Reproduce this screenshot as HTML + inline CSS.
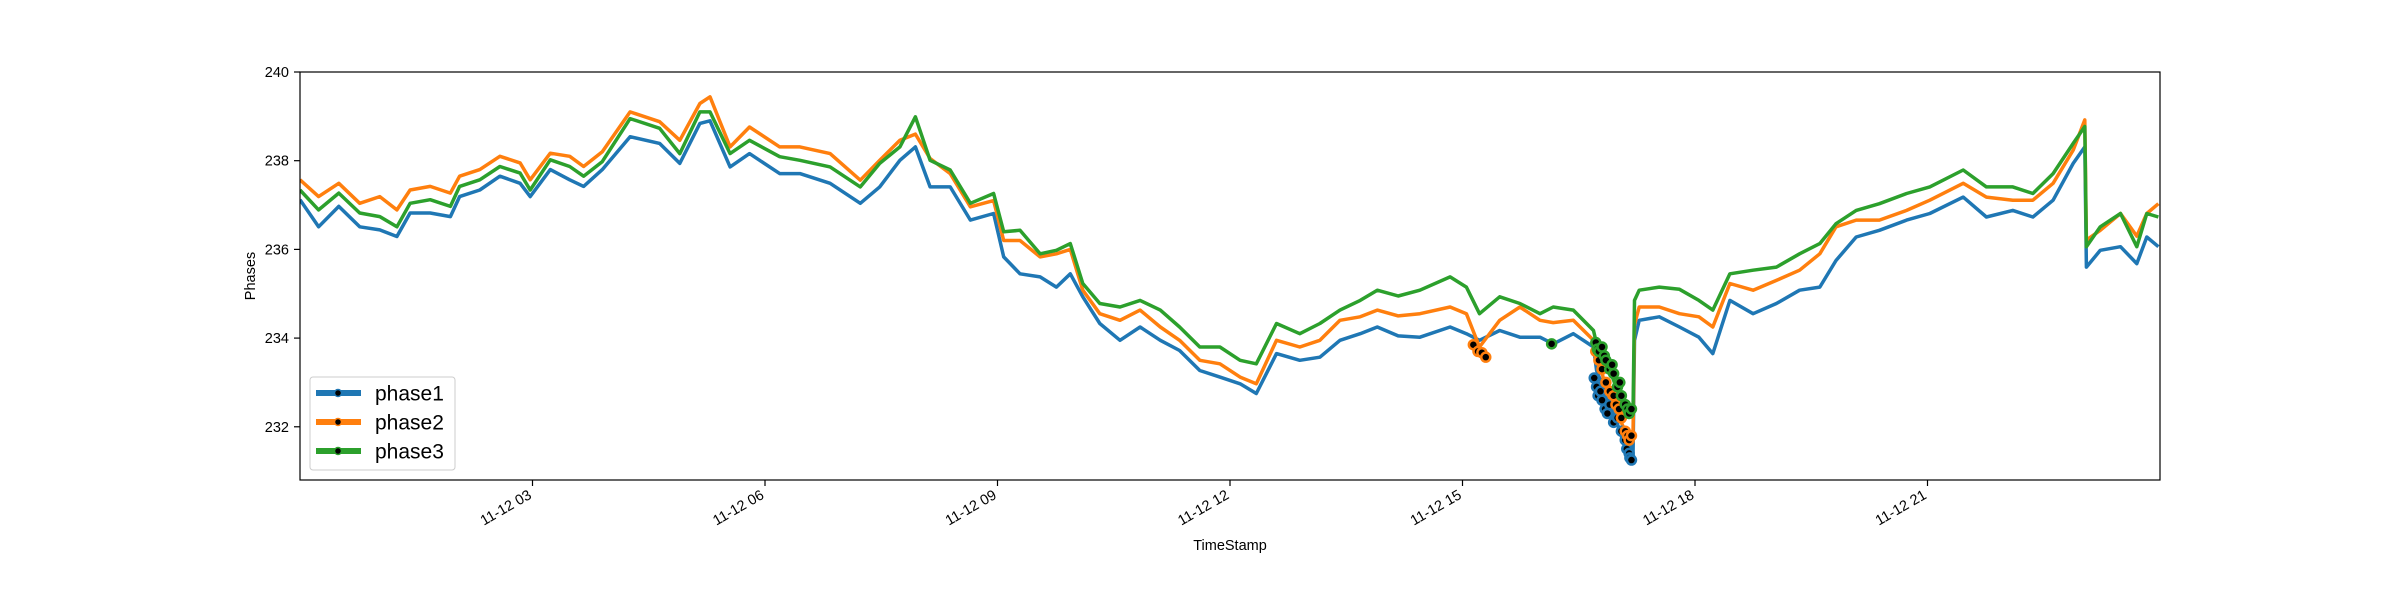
<!DOCTYPE html>
<html><head><meta charset="utf-8"><style>
html,body{margin:0;padding:0;background:#fff;}
svg{display:block;font-family:"Liberation Sans","DejaVu Sans",sans-serif;}
</style></head><body>
<svg id="chart" width="2400" height="600" viewBox="0 0 2400 600" xmlns="http://www.w3.org/2000/svg">
<rect width="2400" height="600" fill="#fff"/>
<defs><clipPath id="clip"><rect x="300" y="72" width="1860" height="408"/></clipPath></defs>
<g id="series" clip-path="url(#clip)"></g>
<g id="axes"></g>
<text x="1230" y="550" font-size="14.5" text-anchor="middle">TimeStamp</text>
<text transform="translate(255,276) rotate(-90)" font-size="14.5" text-anchor="middle">Phases</text>
<g id="legend"></g>
</svg>
<script>
const times = [0,0.24,0.5,0.77,1.03,1.25,1.42,1.68,1.94,2.06,2.32,2.58,2.84,2.97,3.23,3.48,3.66,3.9,4.26,4.64,4.9,5.16,5.29,5.55,5.8,6.19,6.45,6.84,7.23,7.48,7.74,7.94,8.13,8.39,8.65,8.95,9.08,9.29,9.55,9.76,9.94,10.1,10.32,10.58,10.84,11.1,11.35,11.61,11.87,12.13,12.34,12.6,12.9,13.16,13.42,13.68,13.9,14.17,14.45,14.84,15.05,15.22,15.48,15.74,16.0,16.17,16.43,16.69,16.73,16.85,17.0,17.15,17.2,17.22,17.28,17.54,17.8,18.05,18.23,18.45,18.75,19.05,19.35,19.61,19.82,20.08,20.38,20.73,21.03,21.46,21.76,22.1,22.36,22.62,22.88,23.03,23.05,23.23,23.49,23.7,23.83,23.98];
const phase1 = [237.12,236.51,236.97,236.51,236.44,236.29,236.82,236.82,236.74,237.19,237.34,237.65,237.49,237.19,237.8,237.57,237.42,237.8,238.54,238.39,237.94,238.84,238.9,237.86,238.16,237.71,237.71,237.49,237.04,237.41,238.01,238.31,237.41,237.41,236.66,236.81,235.83,235.45,235.38,235.15,235.45,234.93,234.33,233.95,234.25,233.95,233.72,233.27,233.12,232.97,232.75,233.65,233.5,233.57,233.95,234.1,234.25,234.05,234.02,234.25,234.1,233.95,234.17,234.02,234.02,233.87,234.1,233.8,233.27,232.74,232.06,231.24,231.3,233.95,234.4,234.48,234.25,234.02,233.65,234.85,234.55,234.78,235.08,235.15,235.75,236.28,236.43,236.66,236.81,237.18,236.73,236.88,236.73,237.11,237.94,238.31,235.6,235.98,236.06,235.68,236.28,236.06];
const phase2 = [237.57,237.19,237.49,237.04,237.19,236.89,237.34,237.42,237.27,237.65,237.8,238.1,237.95,237.57,238.17,238.1,237.87,238.2,239.1,238.88,238.46,239.29,239.44,238.31,238.76,238.31,238.31,238.16,237.56,238.01,238.46,238.6,238.05,237.71,236.96,237.1,236.2,236.2,235.83,235.9,236.0,235.08,234.55,234.4,234.63,234.25,233.95,233.5,233.42,233.12,232.97,233.95,233.8,233.95,234.4,234.48,234.63,234.5,234.55,234.7,234.55,233.8,234.4,234.7,234.4,234.35,234.4,233.95,233.8,232.82,232.3,231.69,231.8,234.3,234.7,234.7,234.55,234.48,234.25,235.23,235.08,235.3,235.53,235.9,236.51,236.66,236.66,236.88,237.11,237.49,237.18,237.11,237.11,237.49,238.24,238.92,236.21,236.43,236.81,236.3,236.81,237.03];
const phase3 = [237.34,236.89,237.27,236.82,236.74,236.51,237.04,237.12,236.97,237.42,237.57,237.87,237.72,237.34,238.02,237.87,237.65,237.98,238.95,238.73,238.16,239.1,239.1,238.16,238.46,238.09,238.01,237.86,237.41,237.94,238.31,238.99,238.01,237.79,237.04,237.26,236.4,236.43,235.9,235.98,236.13,235.23,234.78,234.7,234.85,234.63,234.25,233.8,233.8,233.5,233.42,234.33,234.1,234.33,234.63,234.85,235.08,234.95,235.08,235.38,235.15,234.55,234.93,234.78,234.55,234.7,234.63,234.17,233.87,233.5,232.82,232.3,232.3,234.85,235.08,235.15,235.1,234.85,234.63,235.45,235.53,235.6,235.9,236.13,236.58,236.88,237.03,237.26,237.41,237.79,237.41,237.41,237.26,237.71,238.39,238.77,236.06,236.51,236.81,236.06,236.81,236.73];
const marker1Times = [16.7,16.73,16.75,16.78,16.8,16.84,16.87,16.9,16.95,17.0,17.05,17.1,17.12,17.15,17.16,17.18];
const marker1Values = [233.1,232.9,232.7,232.8,232.6,232.4,232.3,232.5,232.1,232.2,231.9,231.7,231.5,231.4,231.3,231.25];
const marker2Times = [15.14,15.2,15.25,15.3,16.72,16.76,16.8,16.85,16.9,16.95,16.98,17.02,17.05,17.1,17.13,17.15,17.18];
const marker2Values = [233.85,233.7,233.67,233.57,233.7,233.5,233.3,233.0,232.8,232.7,232.5,232.4,232.2,231.9,231.8,231.7,231.8];
const marker3Times = [16.15,16.72,16.74,16.76,16.8,16.83,16.85,16.9,16.93,16.95,17.0,17.03,17.05,17.1,17.13,17.15,17.18];
const marker3Values = [233.87,233.9,233.75,233.7,233.8,233.6,233.5,233.3,233.4,233.2,232.9,233.0,232.7,232.5,232.4,232.3,232.4];
const yTicks = [232,234,236,238,240];
const xTickHours = [3,6,9,12,15,18,21];
const xTickLabels = ["11-12 03","11-12 06","11-12 09","11-12 12","11-12 15","11-12 18","11-12 21"];
const seriesNames = ["phase1","phase2","phase3"];

const NS = "http://www.w3.org/2000/svg";
const L = 300, R = 2160, T = 72, B = 480;
const X0 = 0, X1 = 24, Y0 = 230.8, Y1 = 240.0;
function xs(h){ return L + (h - X0) / (X1 - X0) * (R - L); }
function ys(v){ return B - (v - Y0) / (Y1 - Y0) * (B - T); }
function mk(tag, attrs, parent){ const e = document.createElementNS(NS, tag); for (const k in attrs) e.setAttribute(k, attrs[k]); parent.appendChild(e); return e; }

const colors = ["#1f77b4","#ff7f0e","#2ca02c"];
const seriesVals = [phase1, phase2, phase3];
const markerT = [marker1Times, marker2Times, marker3Times];
const markerV = [marker1Values, marker2Values, marker3Values];
const sg = document.getElementById("series");
for (let s = 0; s < 3; s++) {
  const pts = times.map((t, i) => xs(t).toFixed(1) + "," + ys(seriesVals[s][i]).toFixed(1)).join(" ");
  const pl = mk("polyline", {points: pts, fill: "none", stroke: colors[s], "stroke-width": 3.5, "stroke-linejoin": "round"}, sg);
  
  
}
for (let s = 0; s < 3; s++) {
  for (let i = 0; i < markerT[s].length; i++) {
    const c = mk("circle", {cx: xs(markerT[s][i]), cy: ys(markerV[s][i]), r: 4.5, fill: "#000", stroke: colors[s], "stroke-width": 2.5}, sg);
    
    
  }
}

const ax = document.getElementById("axes");
const frame = mk("rect", {x: L, y: T, width: R - L, height: B - T, fill: "none", stroke: "#000", "stroke-width": 1.2}, ax);


yTicks.forEach(v => {
  const y = ys(v);
  const tk = mk("line", {x1: L - 6, x2: L, y1: y, y2: y, stroke: "#000", "stroke-width": 1.2}, ax);
  
  
  const tx = mk("text", {x: L - 11, y: y + 5, "font-size": 14.5, "text-anchor": "end"}, ax);
  tx.textContent = v;
  
  
});
xTickHours.forEach((h, i) => {
  const x = xs(h);
  const tk = mk("line", {x1: x, x2: x, y1: B, y2: B + 6, stroke: "#000", "stroke-width": 1.2}, ax);
  
  
  const tx = mk("text", {x: 0, y: 10, "font-size": 14.5, "text-anchor": "end", transform: "translate(" + (x - 5) + "," + (B + 9) + ") rotate(-30)"}, ax);
  tx.textContent = xTickLabels[i];
  
  
});

const lg = document.getElementById("legend");
const box = mk("rect", {x: 310, y: 377, width: 145, height: 93, rx: 3, fill: "#fff", "fill-opacity": 0.8, stroke: "#ccc", "stroke-width": 1}, lg);


for (let s = 0; s < 3; s++) {
  const y = 393 + s * 29;
  const g = mk("g", {}, lg);
  
  
  mk("line", {x1: 316, x2: 361, y1: y, y2: y, stroke: colors[s], "stroke-width": 6}, g);
  mk("circle", {cx: 338, cy: y, r: 3.5, fill: "#000", stroke: colors[s], "stroke-width": 1.5}, g);
  const t = mk("text", {x: 375, y: y + 7.5, "font-size": 21}, g);
  t.textContent = seriesNames[s];
}
</script>
</body></html>
